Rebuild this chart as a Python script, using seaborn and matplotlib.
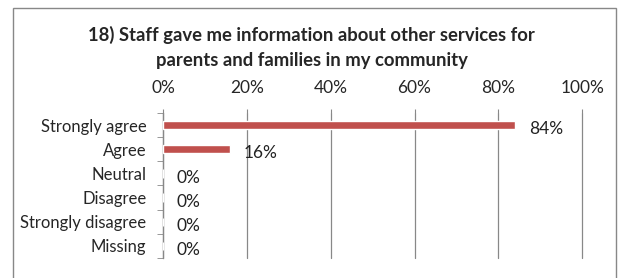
import matplotlib
matplotlib.use("Agg")
import matplotlib.pyplot as plt
import seaborn as sns
import pandas as pd
from matplotlib.patches import Rectangle

# Data
categories = ["Strongly agree", "Agree", "Neutral", "Disagree", "Strongly disagree", "Missing"]
percents = [84, 16, 0, 0, 0, 0]
xticks = [0, 20, 40, 60, 80, 100]

df = pd.DataFrame({"category": categories, "percent": percents})

sns.set_style("white")
plt.rcParams["font.family"] = ["Lato", "DejaVu Sans"]

fig = plt.figure(figsize=(6.23, 2.78), dpi=100)
ax = fig.add_axes([0.2616, 0.072, 0.673, 0.5216])

# outer chart border
fig.patches.append(Rectangle((13 / 623, -0.1), 603 / 623, 1.1 - 8 / 278,
                             transform=fig.transFigure, fill=False,
                             edgecolor="#888888", linewidth=1.0))

sns.barplot(data=df, x="percent", y="category", orient="h",
            color="#C0504D", saturation=1, width=0.35, ax=ax, zorder=3)

for i, v in enumerate(percents):
    ax.annotate(f"{v}%", (v, i), xytext=(10, -3), textcoords="offset points",
                va="center", ha="left", fontsize=12.5, color="#222222")

ax.set_xlim(0, 100)
ax.set_ylim(5.5, -0.5)
ax.set_xticks(xticks)
ax.set_xticklabels([f"{t}%" for t in xticks], fontsize=12.5)
ax.xaxis.tick_top()
ax.tick_params(axis="x", length=3, color="#888888", pad=9, top=True, bottom=False)
ax.grid(axis="x", color="#888888", linewidth=0.9)
for gl in ax.get_xgridlines():
    gl.set_clip_on(False)
ax.set_axisbelow(True)

ax.set_yticks(range(len(categories)))
ax.set_yticklabels(categories, fontsize=12)
ax.tick_params(axis="y", length=0, pad=12)
ax.set_yticks([k - 0.5 for k in range(len(categories) + 1)], minor=True)
ax.tick_params(axis="y", which="minor", length=4, color="#888888", left=True)

for s in ["top", "right", "bottom"]:
    ax.spines[s].set_visible(False)
ax.spines["left"].set_color("#888888")
ax.spines["left"].set_linewidth(0.9)

ax.set_xlabel("")
ax.set_ylabel("")

fig.text(0.5, 0.83, "18) Staff gave me information about other services for\nparents and families in my community",
         ha="center", va="center", fontsize=13.3, fontweight="bold", linespacing=1.6)

fig.savefig("out.png", dpi=100)
